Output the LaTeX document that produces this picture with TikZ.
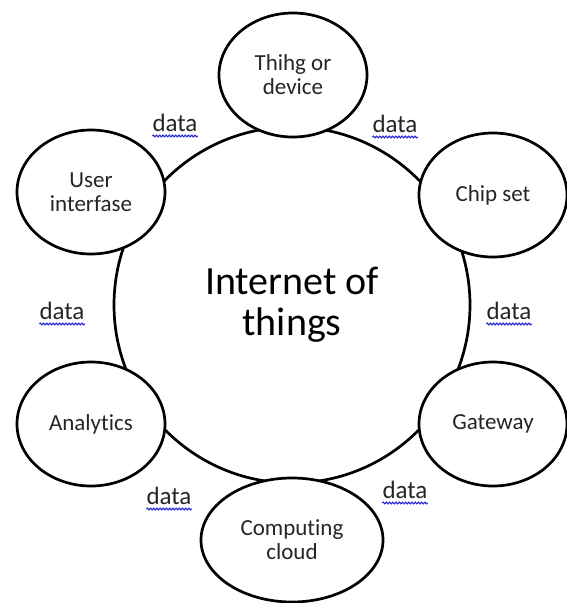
\documentclass[tikz,border=0pt]{standalone}
\usepackage{fontspec}
\setmainfont{Carlito}[RawFeature={-liga;-dlig}]
\usetikzlibrary{shapes.geometric,decorations.pathmorphing}
\definecolor{txt}{RGB}{38,38,38}
\definecolor{spell}{RGB}{40,40,210}
\begin{document}
\begin{tikzpicture}[x=1pt,y=-1pt,
  outline/.style={line width=2.7pt, draw=black},
  bubble/.style={ellipse, outline, fill=white, inner sep=0pt, align=center,
    minimum width=148pt, minimum height=124pt,
    font=\fontsize{23}{24}\selectfont, text=txt},
  datalbl/.style={inner sep=0pt, anchor=base, font=\fontsize{25}{28}\selectfont, text=txt},
  squiggle/.style={draw=spell, line width=1.1pt, decorate,
    decoration={snake, amplitude=0.9pt, segment length=3.2pt}}]
\useasboundingbox (0,0) rectangle (566,603);
% central circle (its rim is the ring of connectors)
\node[circle, outline, minimum size=356pt, inner sep=0pt, align=center,
  font=\fontsize{40}{41}\selectfont, text=black] (iot) at (292,305) {Internet of\\things};
% outer ellipses
\node[bubble] (thing) at (293,75) {Thihg or\\device};
\node[bubble] (chip) at (493,195) {Chip set};
\node[bubble] (gate) at (493,424) {Gateway};
\node[bubble, minimum width=182pt] (cloud) at (292,540) {Computing\\cloud};
\node[bubble] (anal) at (91,424) {Analytics};
\node[bubble] (user) at (91,192) {User\\interfase};
% data labels
\node[datalbl] (d1) at (175,131) {data};
\node[datalbl] (d2) at (395,132) {data};
\node[datalbl] (d3) at (62,319) {data};
\node[datalbl] (d4) at (509,319) {data};
\node[datalbl] (d5) at (169,504) {data};
\node[datalbl] (d6) at (405,498) {data};
\foreach \d in {d1,d2,d3,d4,d5,d6}
  \draw[squiggle] ([yshift=-5pt]\d.base west) -- ([yshift=-5pt]\d.base east);
\end{tikzpicture}
\end{document}
